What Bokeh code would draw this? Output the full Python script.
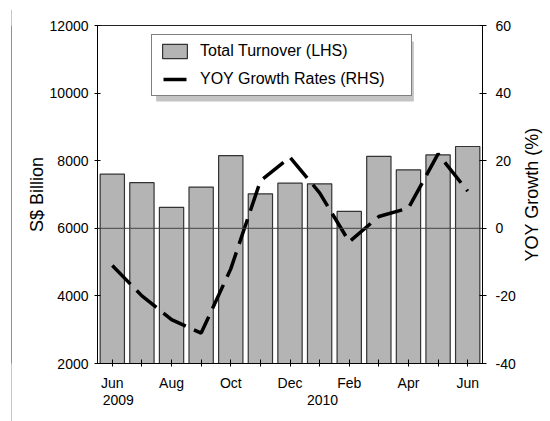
import math
from bokeh.plotting import figure
from bokeh.layouts import row, column
from bokeh.models import (Range1d, LinearAxis, FixedTicker, Span, Legend,
                          LegendItem, BoxAnnotation)
from bokeh.embed import file_html
from bokeh.resources import INLINE

# ---- data ----
months = ["Jun", "Jul", "Aug", "Sep", "Oct", "Nov", "Dec",
          "Jan", "Feb", "Mar", "Apr", "May", "Jun"]
year_labels = ["2009", "2010"]
year_label_pos = [0.2, 7.1]
turnover = [7600, 7350, 6620, 7220, 8150, 7020, 7335,
            7315, 6500, 8130, 7730, 8175, 8420]
yoy = [-11, -20, -27, -31, -12, 14, 21, 10.5, -4, 3.5, 6, 22, 11]
left_ticks = [2000, 4000, 6000, 8000, 10000, 12000]
right_ticks = [-40, -20, 0, 20, 40, 60]

FONT = "Liberation Sans"
idx = list(range(len(months)))
x_min, x_max = -0.5, len(months) - 0.5
y_min, y_max = left_ticks[0], left_ticks[-1]
r_min, r_max = right_ticks[0], right_ticks[-1]

FW, FH = 387, 338
p = figure(width=506, height=412, output_backend="svg", toolbar_location=None,
           x_range=Range1d(x_min, x_max), y_range=Range1d(y_min, y_max),
           x_axis_type=None, y_axis_type=None,
           min_border_left=85, min_border_right=34,
           min_border_top=16, min_border_bottom=58)
p.extra_y_ranges = {"yoy": Range1d(r_min, r_max)}
p.grid.visible = False
p.outline_line_color = "#222"
p.outline_line_width = 1
p.background_fill_color = "white"
p.border_fill_color = "white"


def style_axis(ax):
    ax.axis_line_color = "black"
    ax.major_tick_line_color = "black"
    ax.minor_tick_line_color = None
    ax.major_label_text_font = FONT
    ax.major_label_text_font_size = "14px"
    ax.major_label_text_color = "black"
    ax.axis_label_text_font = FONT
    ax.axis_label_text_font_size = "18px"
    ax.axis_label_text_font_style = "normal"
    ax.axis_label_text_color = "black"


left = LinearAxis(ticker=FixedTicker(ticks=left_ticks), axis_label="S$ Billion")
style_axis(left)
left.major_tick_in = 3
left.major_tick_out = 3
left.major_label_standoff = 6
left.axis_label_standoff = 0
left.major_label_overrides = {v: str(v) for v in left_ticks}
p.add_layout(left, "left")

right = LinearAxis(y_range_name="yoy", ticker=FixedTicker(ticks=right_ticks))
style_axis(right)
right.major_tick_in = 3
right.major_tick_out = 4
right.major_label_standoff = 9
right.major_label_overrides = {v: str(v) for v in right_ticks}
p.add_layout(right, "right")

bottom = LinearAxis(ticker=FixedTicker(ticks=idx))
style_axis(bottom)
bottom.major_tick_in = 4
bottom.major_tick_out = 3
bottom.major_label_standoff = 8
bottom.major_label_overrides = {i: (m if i % 2 == 0 else "") for i, m in enumerate(months)}
p.add_layout(bottom, "below")

years_ax = LinearAxis(ticker=FixedTicker(ticks=year_label_pos))
style_axis(years_ax)
years_ax.axis_line_color = None
years_ax.major_tick_line_color = None
years_ax.major_tick_in = 0
years_ax.major_tick_out = 0
years_ax.major_label_standoff = 1
years_ax.major_label_overrides = {v: t for v, t in zip(year_label_pos, year_labels)}
p.add_layout(years_ax, "below")

# bars
r_bar = p.vbar(x=idx, top=turnover, bottom=y_min, width=0.82,
               fill_color="#b4b4b4", line_color="#333333", line_width=1.2)

# zero line (0% on right axis)
zero_left = y_min + (0 - r_min) / (r_max - r_min) * (y_max - y_min)
p.add_layout(Span(location=zero_left, dimension="width",
                  line_color="#444444", line_width=1))

# yoy line
p.line(x=idx, y=yoy, y_range_name="yoy", line_color="black",
       line_width=3.5, line_dash="26 9")

# legend-only renderer
r_leg = p.line(x=[math.nan], y=[math.nan], line_color="black",
               line_width=3.5, line_dash="23 8", line_dash_offset=27)

# legend placement (screen px relative to frame)
LG_L, LG_B, LG_W, LG_H = 54, 267, 259, 60


def px_x(px):
    return x_min + px / FW * (x_max - x_min)


def px_y(px_from_bottom):
    return y_min + px_from_bottom / FH * (y_max - y_min)


shadow = BoxAnnotation(left=px_x(LG_L + 5), right=px_x(LG_L + LG_W + 5),
                       bottom=px_y(LG_B - 5), top=px_y(LG_B + LG_H - 5),
                       fill_color="#c4c4c4", fill_alpha=1, line_color=None)
p.add_layout(shadow)

legend = Legend(items=[LegendItem(label="Total Turnover (LHS)", renderers=[r_bar]),
                       LegendItem(label="YOY Growth Rates (RHS)", renderers=[r_leg])],
                location=(LG_L, LG_B), glyph_width=31, glyph_height=18,
                label_standoff=10, spacing=10, padding=7, margin=0,
                label_width=204, label_height=18,
                border_line_color="black", border_line_width=1,
                background_fill_color="white", background_fill_alpha=1,
                label_text_font=FONT, label_text_font_size="16px",
                label_text_color="black")
p.add_layout(legend)

# right-hand axis title (reads bottom to top) in a narrow side panel
q = figure(width=31, height=412, output_backend="svg", toolbar_location=None,
           x_range=Range1d(0, 1), y_range=Range1d(0, 1),
           x_axis_type=None, y_axis_type=None,
           min_border_left=22, min_border_right=0,
           min_border_top=16, min_border_bottom=58)
q.outline_line_color = None
q.background_fill_color = "white"
q.border_fill_color = "white"
title_ax = LinearAxis(ticker=FixedTicker(ticks=[0.5]), axis_label="YOY Growth (%)")
style_axis(title_ax)
title_ax.axis_line_color = None
title_ax.major_tick_line_color = None
title_ax.major_tick_in = 0
title_ax.major_tick_out = 0
title_ax.major_label_standoff = 0
title_ax.major_label_text_font_size = "0px"
title_ax.major_label_overrides = {0.5: " "}
title_ax.axis_label_standoff = 0
q.add_layout(title_ax, "left")


# outer chart frame: top and left edges as thin filled panels
def edge(w, h):
    f = figure(width=w, height=h, output_backend="svg", toolbar_location=None,
               x_range=Range1d(0, 1), y_range=Range1d(0, 1),
               x_axis_type=None, y_axis_type=None,
               min_border=0, min_border_left=0, min_border_right=0,
               min_border_top=0, min_border_bottom=0)
    f.outline_line_color = None
    f.background_fill_color = "#222222"
    f.border_fill_color = "#222222"
    return f


top_line = edge(538, 1)
left_line = edge(1, 412)

layout = column(top_line, row(left_line, p, q, spacing=0), spacing=0)
layout.styles = {"margin-left": "11px", "margin-top": "8px"}

open("out.html", "w").write(file_html(layout, INLINE))
